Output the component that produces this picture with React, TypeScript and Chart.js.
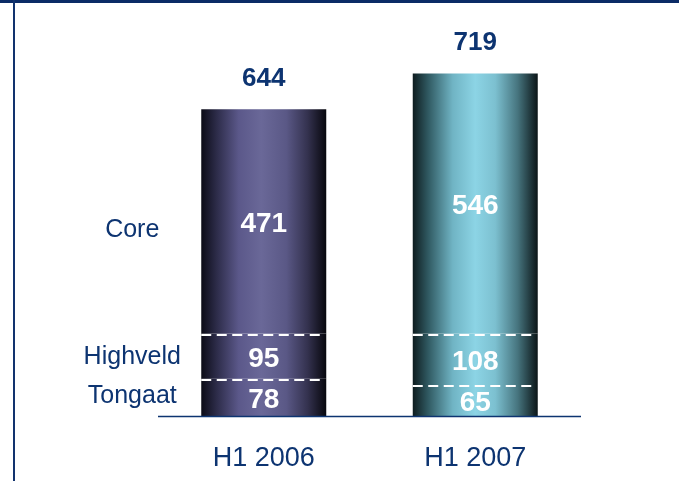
import React, { useEffect, useRef } from "react";
import { Chart, registerables } from "chart.js";

Chart.register(...registerables);

const categories = ["H1 2006", "H1 2007"];
const segmentNames = ["Tongaat", "Highveld", "Core"];
const tongaat = [78, 65];
const highveld = [95, 108];
const core = [471, 546];
const totals = [644, 719];

const NAVY = "#0d3471";
const FONT = "'Liberation Sans', Arial, Helvetica, sans-serif";

const barStops = [
  [
    [0, "#0b0b16"],
    [0.12, "#2c2b48"],
    [0.3, "#5b588a"],
    [0.48, "#6a6898"],
    [0.68, "#5a5886"],
    [0.85, "#34324f"],
    [1, "#07070d"],
  ],
  [
    [0, "#0e1c1f"],
    [0.12, "#2f5860"],
    [0.32, "#70b4c4"],
    [0.5, "#8cd4e5"],
    [0.66, "#7cc0d0"],
    [0.84, "#46747e"],
    [1, "#0b1517"],
  ],
] as [number, string][][];

function makeBg(ctx: any) {
  const chart = ctx.chart;
  const xs = chart.scales.x;
  const i = ctx.dataIndex ?? 0;
  if (!xs || !chart.chartArea) return "#666";
  const cx = xs.getPixelForValue(i);
  const w = (xs.width / categories.length) * 0.591;
  const g = chart.ctx.createLinearGradient(cx - w / 2, 0, cx + w / 2, 0);
  for (const [o, c] of barStops[i]) g.addColorStop(o, c);
  return g;
}

const labelsPlugin = {
  id: "labelsPlugin",
  afterDatasetsDraw(chart: any) {
    const c = chart.ctx;
    const xs = chart.scales.x;
    const ys = chart.scales.y;
    const area = chart.chartArea;
    const barW = (xs.width / categories.length) * 0.591;
    c.save();

    const segs = [tongaat, highveld, core];
    for (let i = 0; i < categories.length; i++) {
      const cx = xs.getPixelForValue(i);
      const left = cx - barW / 2;
      let cum = 0;
      for (let s = 0; s < segs.length; s++) {
        const v = segs[s][i];
        const y0 = ys.getPixelForValue(cum);
        const y1 = ys.getPixelForValue(cum + v);
        cum += v;
        c.fillStyle = "#ffffff";
        c.font = `bold 28px ${FONT}`;
        c.textAlign = "center";
        c.textBaseline = "middle";
        c.fillText(String(v), cx, (y0 + y1) / 2 + 3);
        if (s < segs.length - 1) {
          c.strokeStyle = "#ffffff";
          c.lineWidth = 2;
          c.setLineDash([10, 5.5]);
          c.beginPath();
          c.moveTo(left, Math.round(y1) + 1);
          c.lineTo(left + barW - 6, Math.round(y1) + 1);
          c.stroke();
          c.setLineDash([]);
        }
      }
      c.fillStyle = NAVY;
      c.font = `bold 26px ${FONT}`;
      c.textAlign = "center";
      c.textBaseline = "middle";
      c.fillText(String(totals[i]), cx, ys.getPixelForValue(totals[i]) - 31);
      c.font = `27px ${FONT}`;
      c.fillText(categories[i], cx, area.bottom + 43);
    }

    const cx0 = xs.getPixelForValue(0) - barW / 2 - 69;
    const nudges = [-1, 1, 9];
    let cum = 0;
    c.fillStyle = NAVY;
    c.font = `25px ${FONT}`;
    c.textAlign = "center";
    c.textBaseline = "middle";
    for (let s = 0; s < segs.length; s++) {
      const v = segs[s][0];
      const y0 = ys.getPixelForValue(cum);
      const y1 = ys.getPixelForValue(cum + v);
      cum += v;
      c.fillText(segmentNames[s], cx0, (y0 + y1) / 2 + nudges[s]);
    }

    c.strokeStyle = NAVY;
    c.lineWidth = 1.5;
    c.beginPath();
    c.moveTo(area.left, area.bottom + 0.5);
    c.lineTo(area.right, area.bottom + 0.5);
    c.stroke();
    c.restore();
  },
};

export default function App() {
  const ref = useRef<HTMLCanvasElement>(null);
  useEffect(() => {
    if (!ref.current) return;
    const chart = new Chart(ref.current, {
      type: "bar",
      data: {
        labels: categories,
        datasets: [
          { label: segmentNames[0], data: tongaat, backgroundColor: makeBg, borderWidth: 0 },
          { label: segmentNames[1], data: highveld, backgroundColor: makeBg, borderWidth: 0 },
          { label: segmentNames[2], data: core, backgroundColor: makeBg, borderWidth: 0 },
        ],
      },
      options: {
        responsive: false,
        animation: false,
        layout: { padding: { left: 158, right: 98, top: 16, bottom: 65 } },
        datasets: { bar: { barPercentage: 0.591, categoryPercentage: 1 } },
        plugins: { legend: { display: false }, tooltip: { enabled: false } },
        scales: {
          x: { display: false, stacked: true },
          y: { display: false, stacked: true, min: 0, max: 840 },
        },
      },
      plugins: [labelsPlugin],
    });
    return () => chart.destroy();
  }, []);
  return (
    <div style={{ position: "absolute", left: 0, top: 0, width: 679, height: 481, background: "#fff", overflow: "hidden" }}>
      <canvas ref={ref} width={679} height={481} style={{ display: "block" }} />
      <div style={{ position: "absolute", left: 0, top: 0, width: 679, height: 3, background: "#0b2b66" }} />
      <div style={{ position: "absolute", left: 13, top: 0, width: 2, height: 481, background: "#12336e" }} />
    </div>
  );
}
